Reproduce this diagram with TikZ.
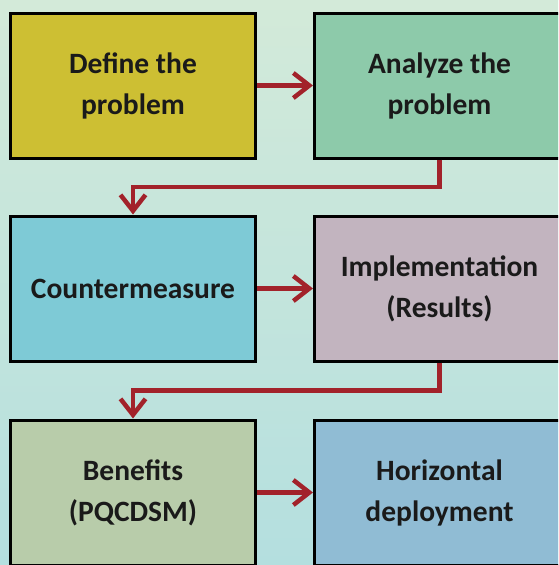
\documentclass[tikz,border=0pt]{standalone}
\usepackage{fontspec}
\setmainfont{Carlito}
\usetikzlibrary{arrows.meta,calc}
\definecolor{bgtop}{HTML}{D3EAD9}
\definecolor{bgbot}{HTML}{B4DFDF}
\definecolor{cdefine}{HTML}{CDBF33}
\definecolor{canalyze}{HTML}{8DCAAA}
\definecolor{ccounter}{HTML}{7ECAD6}
\definecolor{cimpl}{HTML}{C2B4BF}
\definecolor{cbenefit}{HTML}{B8CCAA}
\definecolor{choriz}{HTML}{90BCD4}
\definecolor{arrowred}{HTML}{A2222A}
\definecolor{textdark}{HTML}{1A1A1A}
\tikzset{
  stepbox/.style={draw=black, line width=3pt, rectangle, inner sep=0pt,
    minimum width=245pt, minimum height=145pt, align=center,
    text=textdark, font=\bfseries\fontsize{29.5}{41}\selectfont},
  widebox/.style={stepbox, minimum width=250pt},
  flow/.style={draw=arrowred, line width=4.5pt,
    -{Straight Barb[length=16pt,width=25pt]}},
}
\begin{document}
\begin{tikzpicture}[x=1pt,y=-1pt]
  \useasboundingbox (0,0) rectangle (558,565);
  \clip (0,0) rectangle (558,565);
  \shade[top color=bgtop, bottom color=bgbot] (0,0) rectangle (558,565);

  % three rows of steps
  \node[stepbox, fill=cdefine]  (b1) at (133,85.5)   {Define the\\problem};
  \node[widebox, fill=canalyze] (b2) at (439.5,85.5) {Analyze the\\problem};
  \node[stepbox, fill=ccounter] (b3) at (133,288.5)  {Countermeasure};
  \node[widebox, fill=cimpl]    (b4) at (439.5,288.5) {Implementation\\(Results)};
  \node[stepbox, fill=cbenefit] (b5) at (133,492.5)  {Benefits\\(PQCDSM)};
  \node[widebox, fill=choriz]   (b6) at (439.5,492.5) {Horizontal\\deployment};

  % horizontal steps within a row
  \draw[flow] (b1.east) -- (b2.west);
  \draw[flow] (b3.east) -- (b4.west);
  \draw[flow] (b5.east) -- (b6.west);

  % elbow links from one row to the next
  \coordinate (m1) at ($(b1.south)!0.5!(b3.north)$);
  \coordinate (m2) at ($(b3.south)!0.5!(b5.north)$);
  \draw[flow] (b2.south) |- (m1) -- (b3.north);
  \draw[flow] (b4.south) |- (m2) -- (b5.north);
\end{tikzpicture}
\end{document}
